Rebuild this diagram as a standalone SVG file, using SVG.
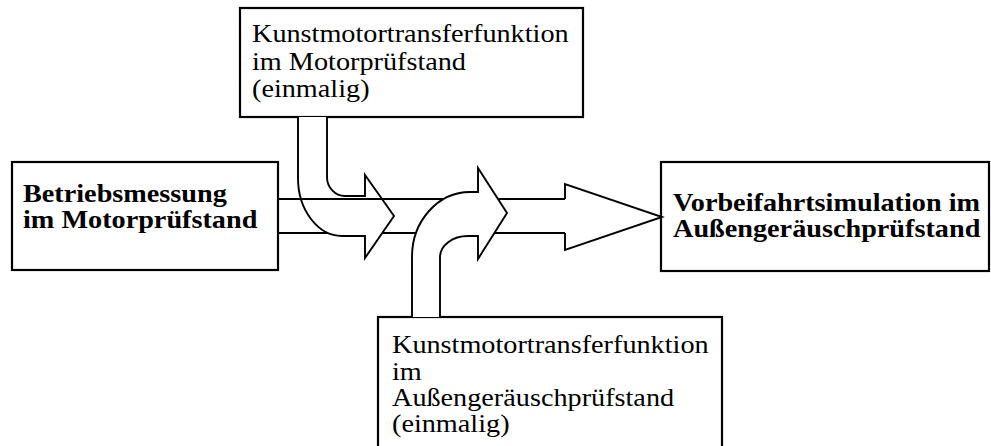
<svg xmlns="http://www.w3.org/2000/svg" width="991" height="446" viewBox="0 0 991 446">
<style>
.box{fill:#fff;stroke:#000;stroke-width:2.2}
.ln{fill:none;stroke:#000;stroke-width:1.9}
.ar{fill:#fff;stroke:#000;stroke-width:1.9;stroke-linejoin:miter}
.t{font-family:"Liberation Serif","Times New Roman",serif;font-size:26px;fill:#000}
.b{font-weight:bold}
</style>
<rect width="991" height="446" fill="#fff"/>
<g id="node-top">
<rect class="box" x="240" y="8" width="343" height="109"/>
<g transform="translate(252,0) scale(1.086,1)">
<text class="t"><tspan x="0" y="42">Kunstmotortransferfunktion</tspan><tspan x="0" y="70">im Motorprüfstand</tspan><tspan x="0" y="97">(einmalig)</tspan></text>
</g>
</g>
<g id="node-left">
<rect class="box" x="12" y="162" width="266" height="108"/>
<g transform="translate(23,0) scale(1.086,1)">
<text class="t b"><tspan x="0" y="202">Betriebsmessung</tspan><tspan x="0" y="228">im Motorprüfstand</tspan></text>
</g>
</g>
<g id="node-right">
<rect class="box" x="661" y="162" width="328" height="109"/>
<g transform="translate(673,0) scale(1.086,1)">
<text class="t b"><tspan x="0" y="211">Vorbeifahrtsimulation im</tspan><tspan x="0" y="237">Außengeräuschprüfstand</tspan></text>
</g>
</g>
<g id="node-bottom">
<rect class="box" x="378" y="317" width="344" height="140"/>
<g transform="translate(392,0) scale(1.086,1)">
<text class="t"><tspan x="0" y="353">Kunstmotortransferfunktion</tspan><tspan x="0" y="380">im</tspan><tspan x="0" y="406">Außengeräuschprüfstand</tspan><tspan x="0" y="432">(einmalig)</tspan></text>
</g>
</g>
<g id="connectors">
<line class="ln" x1="278" y1="233" x2="565" y2="233"/>
<path class="ar" d="M298,117 L298,178 C298,210 318,236 342,236 L365,236 L365,258 L394,216 L365,175 L365,196 L345,196 C335,196 327,187.5 327,177 L327,117"/>
<line class="ln" x1="278" y1="199" x2="565" y2="199"/>
<polyline class="ln" points="565,199 565,184 662,217 565,250 565,233"/>
<path class="ar" d="M412,317 L412,257 C412,221 438,192 470,192 L478,192 L478,168 L507,213 L478,259 L478,236 L468,236 C452.5,236 440,245.4 440,257 L440,317"/>
</g>
</svg>
